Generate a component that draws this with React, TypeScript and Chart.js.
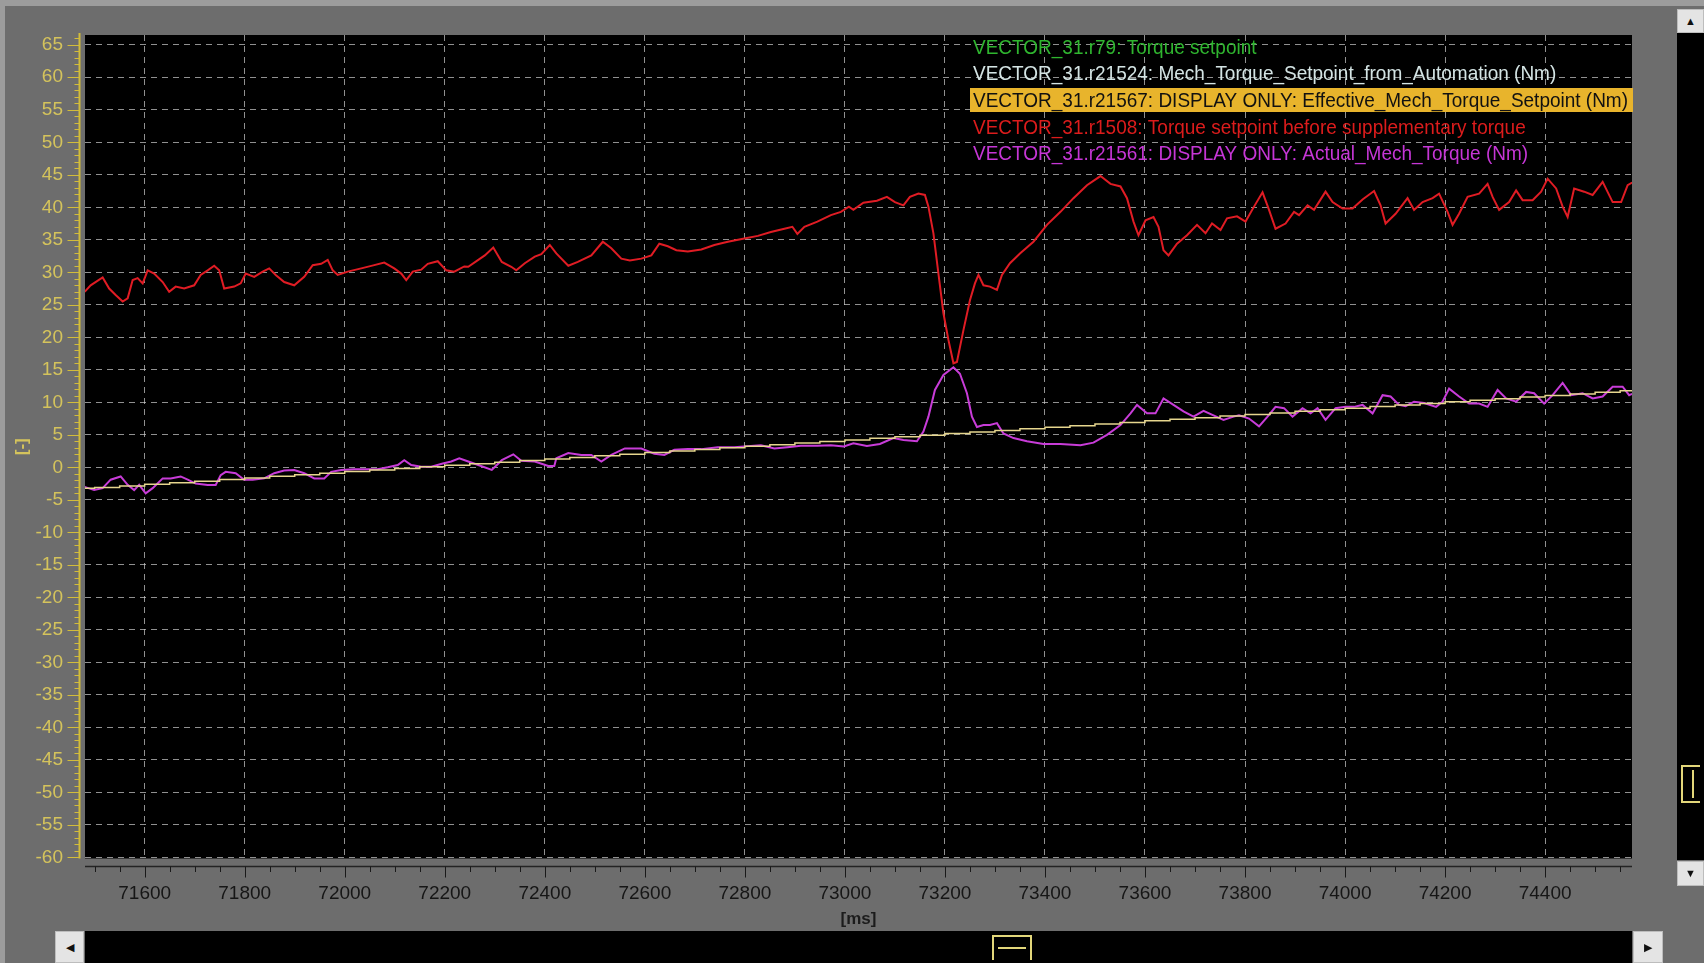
import { useEffect, useRef } from 'react';
import { Chart, registerables } from 'chart.js';

Chart.register(...registerables);

// ---------- data ----------
const xTickValues = [71600, 71800, 72000, 72200, 72400, 72600, 72800, 73000, 73200, 73400, 73600, 73800, 74000, 74200, 74400];
const yTickValues = [-60, -55, -50, -45, -40, -35, -30, -25, -20, -15, -10, -5, 0, 5, 10, 15, 20, 25, 30, 35, 40, 45, 50, 55, 60, 65];

const legendLabels = [
  'VECTOR_31.r79: Torque setpoint',
  'VECTOR_31.r21524: Mech_Torque_Setpoint_from_Automation (Nm)',
  'VECTOR_31.r21567: DISPLAY ONLY: Effective_Mech_Torque_Setpoint (Nm)',
  'VECTOR_31.r1508: Torque setpoint before supplementary torque',
  'VECTOR_31.r21561: DISPLAY ONLY: Actual_Mech_Torque (Nm)',
];

const redTimes = [
  71480, 71492, 71516, 71529, 71542, 71556, 71566, 71576, 71586, 71596, 71606, 71619, 71636, 71649, 71662, 71679,
  71699, 71712, 71726, 71739, 71749, 71759, 71779, 71792, 71802, 71819, 71836, 71849, 71862, 71879, 71899, 71919,
  71936, 71953, 71966, 71976, 71986, 72006, 72033, 72059, 72079, 72099, 72113, 72123, 72136, 72153, 72166, 72186,
  72203, 72219, 72239, 72247, 72267, 72280, 72297, 72314, 72333, 72343, 72360, 72380, 72393, 72410, 72423, 72447,
  72466, 72493, 72516, 72533, 72553, 72570, 72593, 72613, 72629, 72646, 72663, 72686, 72713, 72739, 72766, 72799,
  72826, 72852, 72879, 72895, 72905, 72919, 72945, 72972, 72992, 73008, 73017, 73037, 73064, 73084, 73100, 73117,
  73130, 73147, 73160, 73167, 73177, 73187, 73197, 73207, 73217, 73224, 73237, 73250, 73260, 73267, 73277, 73290,
  73304, 73314, 73330, 73350, 73377, 73404, 73431, 73457, 73484, 73511, 73531, 73551, 73564, 73577, 73587, 73601,
  73617, 73627, 73637, 73647, 73664, 73684, 73704, 73721, 73734, 73751, 73764, 73784, 73801, 73818, 73835, 73848,
  73861, 73881, 73898, 73908, 73925, 73938, 73961, 73975, 73995, 74015, 74035, 74058, 74071, 74081, 74101, 74125,
  74138, 74155, 74175, 74188, 74205, 74215, 74228, 74245, 74268, 74285, 74295, 74308, 74328, 74342, 74355, 74375,
  74392, 74405, 74422, 74435, 74445, 74458, 74478, 74495, 74515, 74535, 74552, 74565, 74574,
];
const redValues = [
  27.0, 28.0, 29.2, 27.5, 26.5, 25.5, 26.0, 28.8, 29.1, 28.3, 30.3, 29.8, 28.5, 27.0, 27.8, 27.5,
  28.0, 29.6, 30.3, 31.0, 30.3, 27.5, 27.8, 28.3, 29.8, 29.3, 30.1, 30.6, 29.6, 28.5, 28.0, 29.3,
  31.1, 31.3, 31.9, 30.3, 29.6, 30.1, 30.6, 31.1, 31.5, 30.6, 29.8, 28.8, 30.1, 30.4, 31.3, 31.7,
  30.3, 30.1, 30.9, 30.85, 31.9, 32.6, 33.8, 31.6, 30.85, 30.3, 31.4, 32.4, 32.8, 34.2, 32.9, 31.0,
  31.6, 32.6, 34.7, 33.7, 32.1, 31.8, 32.1, 32.6, 34.4, 34.0, 33.4, 33.2, 33.5, 34.2, 34.7, 35.2,
  35.6, 36.2, 36.7, 37.0, 35.9, 37.0, 37.8, 38.8, 39.3, 40.1, 39.6, 40.7, 41.0, 41.6, 40.8, 40.3,
  41.6, 42.1, 41.9, 40.1, 36.0, 29.8, 23.7, 19.6, 16.0, 16.2, 21.1, 25.7, 28.3, 29.6, 28.0, 27.8,
  27.3, 29.6, 31.4, 32.9, 34.7, 37.3, 39.3, 41.4, 43.4, 44.8, 43.6, 43.2, 41.4, 37.8, 35.7, 38.0,
  38.5, 37.0, 33.4, 32.6, 34.4, 35.7, 37.3, 36.0, 37.5, 36.5, 38.3, 38.6, 37.8, 40.1, 42.3, 39.6,
  36.7, 37.5, 39.3, 38.8, 40.3, 39.6, 42.4, 40.8, 39.8, 39.8, 41.2, 42.5, 40.3, 37.5, 39.0, 41.4,
  39.6, 40.8, 41.4, 42.1, 39.3, 37.3, 39.0, 41.6, 42.1, 43.6, 41.6, 39.6, 40.8, 42.6, 41.1, 41.1,
  42.4, 44.4, 42.9, 40.1, 38.5, 42.9, 42.4, 41.9, 43.9, 40.8, 40.8, 43.4, 43.8,
];

const magentaTimes = [
  71480, 71499, 71516, 71532, 71552, 71566, 71579, 71589, 71602, 71616, 71636, 71652, 71672, 71686, 71702, 71726,
  71742, 71752, 71762, 71782, 71799, 71816, 71839, 71859, 71879, 71899, 71919, 71939, 71959, 71973, 71993, 72019,
  72046, 72066, 72086, 72106, 72119, 72133, 72153, 72173, 72196, 72213, 72229, 72247, 72267, 72294, 72314, 72337,
  72353, 72380, 72407, 72419, 72423, 72447, 72473, 72493, 72513, 72533, 72560, 72593, 72619, 72639, 72659, 72686,
  72713, 72746, 72779, 72812, 72832, 72859, 72885, 72912, 72945, 72972, 72998, 73017, 73044, 73070, 73097, 73117,
  73144, 73157, 73167, 73180, 73197, 73217, 73230, 73244, 73254, 73264, 73277, 73290, 73304, 73317, 73337, 73364,
  73397, 73431, 73471, 73497, 73524, 73551, 73571, 73584, 73604, 73621, 73637, 73657, 73677, 73697, 73717, 73737,
  73757, 73777, 73788, 73808, 73828, 73845, 73861, 73878, 73895, 73915, 73931, 73945, 73961, 73981, 74001, 74018,
  74035, 74055, 74075, 74091, 74108, 74121, 74138, 74158, 74182, 74195, 74208, 74228, 74248, 74268, 74285, 74305,
  74322, 74342, 74362, 74378, 74398, 74415, 74435, 74452, 74475, 74495, 74515, 74535, 74555, 74568, 74574,
];
const magentaValues = [
  -3.0, -3.5, -3.2, -1.9, -1.4, -2.7, -3.5, -2.7, -4.0, -3.2, -1.7, -1.7, -1.4, -1.9, -2.5, -2.7,
  -2.7, -1.2, -0.7, -0.9, -1.9, -1.9, -1.7, -0.9, -0.5, -0.4, -0.9, -1.7, -1.7, -0.7, -0.4, -0.3,
  -0.3, -0.3, 0.0, 0.35, 1.1, 0.35, 0.1, 0.1, 0.6, 0.9, 1.4, 0.9, 0.35, -0.4, 1.1, 2.0,
  1.0, 0.9, 0.2, 0.2, 1.4, 2.2, 1.9, 1.9, 0.9, 1.9, 2.9, 2.9, 2.1, 1.9, 2.7, 2.8,
  2.8, 3.1, 3.1, 3.3, 3.4, 2.9, 3.1, 3.3, 3.3, 3.4, 3.2, 3.7, 3.3, 3.6, 4.5, 4.2,
  4.0, 5.5, 7.8, 11.9, 14.2, 15.4, 14.4, 11.4, 7.8, 6.2, 6.5, 6.5, 6.8, 5.2, 4.5, 4.0,
  3.6, 3.6, 3.4, 3.8, 5.0, 6.5, 8.3, 9.6, 8.3, 8.3, 10.6, 9.6, 8.6, 7.8, 8.7, 8.0,
  7.3, 7.8, 8.0, 7.5, 6.3, 7.8, 9.3, 9.1, 7.8, 9.1, 8.3, 9.1, 7.3, 9.1, 9.3, 9.3,
  9.6, 8.3, 11.1, 10.9, 9.6, 9.4, 10.1, 9.9, 9.3, 10.1, 12.1, 10.9, 9.8, 9.8, 9.3, 11.9,
  10.6, 10.1, 11.6, 11.4, 9.8, 11.1, 13.0, 11.1, 11.4, 10.6, 10.9, 12.4, 12.4, 11.1, 11.3,
];

const yellowTimes = [
  71480, 71500, 71550, 71600, 71650, 71700, 71750, 71800, 71850, 71900, 71950, 72000, 72050, 72100, 72150, 72200,
  72250, 72300, 72350, 72400, 72450, 72500, 72550, 72600, 72650, 72700, 72750, 72800, 72850, 72900, 72950, 73000,
  73050, 73100, 73150, 73200, 73250, 73300, 73350, 73400, 73450, 73500, 73550, 73600, 73650, 73700, 73750, 73800,
  73850, 73900, 73950, 74000, 74050, 74100, 74150, 74200, 74250, 74300, 74350, 74400, 74450, 74500, 74550, 74574,
];
const yellowValues = [
  -3.2, -3.1, -2.86, -2.61, -2.37, -2.13, -1.88, -1.64, -1.39, -1.15, -0.91, -0.66, -0.42, -0.17, 0.07, 0.31,
  0.56, 0.8, 1.05, 1.29, 1.53, 1.78, 2.02, 2.27, 2.51, 2.75, 3.0, 3.24, 3.49, 3.73, 3.97, 4.22,
  4.46, 4.71, 4.95, 5.19, 5.44, 5.68, 5.93, 6.17, 6.41, 6.66, 6.9, 7.15, 7.39, 7.63, 7.88, 8.12,
  8.37, 8.61, 8.85, 9.1, 9.34, 9.59, 9.83, 10.07, 10.32, 10.56, 10.81, 11.05, 11.29, 11.54, 11.78, 11.9,
];

// ---------- style ----------
const W = 1704;
const H = 963;
const BG = '#6d6d6d';
const FONT = "'Liberation Sans', Arial, sans-serif";
const LEGEND_FONT = "'Liberation Sans', Arial, sans-serif";
const AXIS_YELLOW = '#d4c35c';
const legendColors = ['#2fb52f', '#d4e4e4', '#111111', '#dc1c1c', '#c636d6'];

const toPoints = (ts: number[], vs: number[]) => ts.map((t, i) => ({ x: t, y: vs[i] }));

const decorPlugin = {
  id: 'decor',
  beforeDraw(chart: any) {
    const { ctx, chartArea } = chart;
    const { left, top, right, bottom } = chartArea;
    ctx.save();
    ctx.fillStyle = '#000';
    ctx.fillRect(left, top, right - left, bottom - top);
    ctx.restore();
  },
  afterDraw(chart: any) {
    const { ctx, chartArea } = chart;
    const { left, top, right, bottom } = chartArea;
    const xs = chart.scales.x;
    const ys = chart.scales.y;
    ctx.save();

    // y ruler (yellow)
    const rx = 79.5;
    ctx.strokeStyle = '#d2bc3a';
    ctx.lineWidth = 2;
    ctx.beginPath();
    ctx.moveTo(rx, top - 2);
    ctx.lineTo(rx, bottom);
    ctx.stroke();
    ctx.lineWidth = 1;
    ctx.beginPath();
    for (let v = Math.ceil(ys.min); v <= Math.floor(ys.max); v++) {
      const y = Math.round(ys.getPixelForValue(v)) + 0.5;
      const major = yTickValues.includes(v);
      ctx.moveTo(rx - (major ? 12 : 5), y);
      ctx.lineTo(rx, y);
    }
    ctx.stroke();

    // x ruler (dark)
    const ry = 866.5;
    ctx.strokeStyle = '#242424';
    ctx.lineWidth = 1.5;
    ctx.beginPath();
    ctx.moveTo(left, ry);
    ctx.lineTo(right, ry);
    ctx.stroke();
    ctx.lineWidth = 1;
    ctx.strokeStyle = '#1a1a1a';
    ctx.beginPath();
    for (let v = Math.ceil(xs.min / 50) * 50; v <= xs.max; v += 50) {
      const x = Math.round(xs.getPixelForValue(v)) + 0.5;
      const major = xTickValues.includes(v);
      ctx.moveTo(x, ry);
      ctx.lineTo(x, ry + (major ? 11 : 5.5));
    }
    ctx.stroke();

    // legend
    ctx.font = `21px ${LEGEND_FONT}`;
    const w3 = ctx.measureText(legendLabels[2]).width;
    const sx = 655 / w3;
    ctx.fillStyle = '#e8b42c';
    ctx.fillRect(970, 88, right - 970 + 1, 24);
    const rowY = [48, 74.6, 101, 127.8, 154.4];
    legendLabels.forEach((txt, i) => {
      ctx.save();
      ctx.translate(973, rowY[i]);
      ctx.scale(sx, 1);
      ctx.textBaseline = 'middle';
      ctx.textAlign = 'left';
      ctx.fillStyle = legendColors[i];
      ctx.fillText(txt, 0, 0);
      ctx.restore();
    });
    ctx.restore();
  },
};

const btn: any = {
  position: 'absolute',
  background: '#e4e4e4',
  color: '#101010',
  display: 'flex',
  alignItems: 'center',
  justifyContent: 'center',
  fontSize: 11,
  fontFamily: FONT,
  lineHeight: 1,
  boxSizing: 'border-box',
  border: '1px solid #bdbdbd',
};

export default function App() {
  const ref = useRef<HTMLCanvasElement | null>(null);

  useEffect(() => {
    document.body.style.margin = '0';
    document.body.style.overflow = 'hidden';
    if (!ref.current) return;
    const chart = new Chart(ref.current, {
      type: 'line',
      data: {
        datasets: [
          {
            label: legendLabels[2],
            data: toPoints(yellowTimes, yellowValues),
            borderColor: '#e6d68e',
            borderWidth: 1.5,
            stepped: true,
            pointRadius: 0,
            order: 0,
          },
          {
            label: legendLabels[4],
            data: toPoints(magentaTimes, magentaValues),
            borderColor: '#c83cd8',
            borderWidth: 2,
            pointRadius: 0,
            order: 1,
          },
          {
            label: legendLabels[3],
            data: toPoints(redTimes, redValues),
            borderColor: '#e01c24',
            borderWidth: 2,
            pointRadius: 0,
            order: 2,
          },
        ],
      },
      options: {
        responsive: false,
        animation: false,
        events: [],
        layout: { padding: { left: 0, top: 35, right: 72, bottom: 33 } },
        plugins: { legend: { display: false }, tooltip: { enabled: false } },
        elements: { line: { tension: 0 }, point: { radius: 0 } },
        scales: {
          x: {
            type: 'linear',
            min: 71480.7,
            max: 74573.7,
            afterBuildTicks: (s: any) => {
              s.ticks = xTickValues.map((v) => ({ value: v }));
            },
            afterFit: (s: any) => {
              s.height = 71.5;
            },
            grid: { color: 'rgba(205,205,205,0.7)', lineWidth: 1, drawTicks: false },
            border: { display: false, dash: [6, 5] },
            ticks: {
              padding: 24,
              color: '#161616',
              font: { family: FONT, size: 19 },
              autoSkip: false,
              maxRotation: 0,
              callback: (v: any) => String(v),
            },
            title: {
              display: true,
              text: '[ms]',
              color: '#1c1c1c',
              font: { family: FONT, size: 17, weight: 'bold' },
              padding: 0,
            },
          },
          y: {
            type: 'linear',
            min: -60.17,
            max: 66.5,
            afterBuildTicks: (s: any) => {
              s.ticks = yTickValues.map((v) => ({ value: v }));
            },
            afterFit: (s: any) => {
              s.width = 85;
            },
            grid: { color: 'rgba(205,205,205,0.7)', lineWidth: 1, drawTicks: false },
            border: { display: false, dash: [6, 5] },
            ticks: {
              padding: 22,
              color: AXIS_YELLOW,
              font: { family: FONT, size: 19 },
              autoSkip: false,
              callback: (v: any) => String(v),
            },
            title: {
              display: true,
              text: '[-]',
              color: AXIS_YELLOW,
              font: { family: FONT, size: 17, weight: 'bold' },
              padding: { top: 12, bottom: 0 },
            },
          },
        },
      } as any,
      plugins: [decorPlugin as any],
    });
    return () => chart.destroy();
  }, []);

  return (
    <div style={{ position: 'relative', width: W, height: H, background: BG, overflow: 'hidden' }}>
      <div style={{ position: 'absolute', left: 0, top: 0, width: W, height: 6, background: '#9c9c9c' }} />
      <div style={{ position: 'absolute', left: 0, top: 0, width: 5, height: H, background: '#9c9c9c' }} />
      <canvas ref={ref} width={W} height={H} style={{ position: 'absolute', left: 0, top: 0, width: W, height: H }} />

      {/* vertical scrollbar */}
      <div style={{ ...btn, left: 1677, top: 9, width: 27, height: 24 }}>▲</div>
      <div style={{ position: 'absolute', left: 1677, top: 33, width: 27, height: 827, background: '#000' }} />
      <div style={{ ...btn, left: 1677, top: 861, width: 27, height: 25 }}>▼</div>
      <div
        style={{
          position: 'absolute',
          left: 1681,
          top: 765,
          width: 19,
          height: 38,
          boxSizing: 'border-box',
          border: '2px solid #e2d67a',
          borderRight: 'none',
        }}
      />
      <div style={{ position: 'absolute', left: 1692, top: 770, width: 2, height: 28, background: '#e2d67a' }} />

      {/* horizontal scrollbar */}
      <div style={{ ...btn, left: 55, top: 931, width: 29, height: 32 }}>◀</div>
      <div style={{ position: 'absolute', left: 85, top: 931, width: 1547, height: 32, background: '#000' }} />
      <div style={{ ...btn, left: 1633, top: 931, width: 30, height: 32 }}>▶</div>
      <div
        style={{
          position: 'absolute',
          left: 992,
          top: 935,
          width: 40,
          height: 25,
          boxSizing: 'border-box',
          border: '2px solid #e2d67a',
          borderBottom: 'none',
        }}
      />
      <div style={{ position: 'absolute', left: 998, top: 947, width: 28, height: 2, background: '#e2d67a' }} />
    </div>
  );
}
